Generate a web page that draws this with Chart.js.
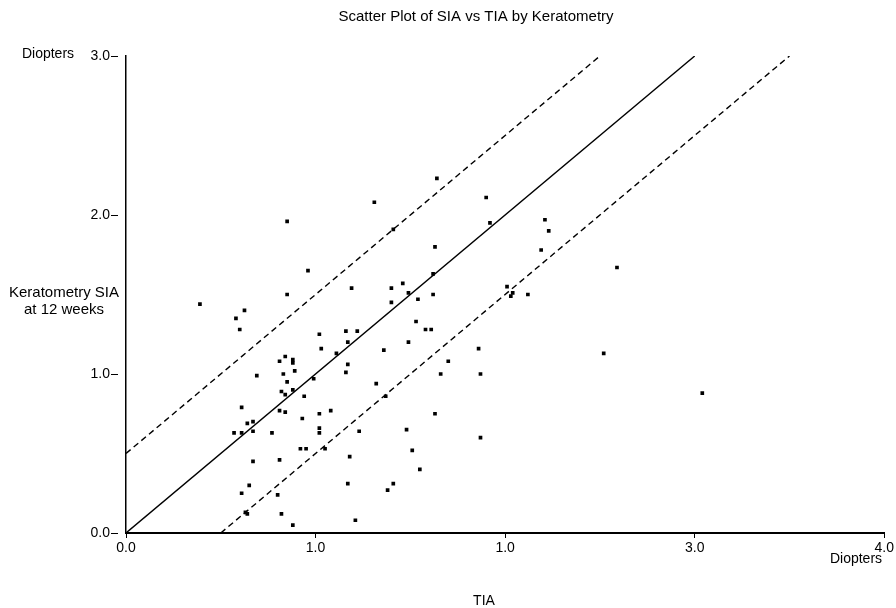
<!DOCTYPE html>
<html>
<head>
<meta charset="utf-8">
<title>Scatter Plot of SIA vs TIA by Keratometry</title>
<script src="https://cdn.jsdelivr.net/npm/chart.js@4.4.1/dist/chart.umd.min.js"></script>
<style>
  html, body { margin: 0; padding: 0; background: #fff; }
  #wrap { width: 896px; height: 608px; }
</style>
</head>
<body>
<div id="wrap"><canvas id="sia-chart" width="896" height="608"></canvas></div>
<script>
// values, in diopters (TIA on x, keratometry SIA on y)
const tia = [
    0.39, 0.58, 0.625, 0.60, 0.85, 0.96, 0.85, 1.31, 1.64, 1.41,
    1.90, 1.92, 1.63, 1.19, 1.62, 1.40, 1.46, 1.49, 1.62, 1.40,
    1.54, 1.53, 1.58, 1.61, 1.16, 1.22, 1.17, 1.49, 1.11, 1.36,
    1.86, 1.02, 1.03, 0.84, 0.81, 0.88, 0.88, 0.69, 0.83, 0.89,
    0.85, 0.99, 0.82, 0.84, 0.88, 0.94, 0.61, 0.81, 0.84, 0.64,
    0.67, 0.67, 0.57, 0.61, 0.77, 0.93, 1.02, 1.08, 1.02, 1.02,
    0.92, 0.95, 1.05, 0.67, 0.81, 0.65, 0.61, 0.80, 0.63, 0.64,
    0.82, 0.88, 1.17, 1.16, 1.70, 1.66, 1.87, 1.32, 1.37, 1.63,
    1.23, 1.48, 1.87, 1.18, 1.51, 1.55, 1.17, 1.41, 1.38, 1.21,
    2.21, 2.23, 2.19, 2.59, 2.01, 2.03, 2.04, 2.12, 2.52, 3.04
];
const sia = [
    1.44, 1.35, 1.40, 1.28, 1.96, 1.65, 1.50, 2.08, 2.23, 1.91,
    2.11, 1.95, 1.80, 1.54, 1.63, 1.54, 1.57, 1.51, 1.50, 1.45,
    1.47, 1.33, 1.28, 1.28, 1.27, 1.27, 1.20, 1.20, 1.13, 1.15,
    1.16, 1.25, 1.16, 1.11, 1.08, 1.09, 1.07, 0.99, 1.00, 1.02,
    0.95, 0.97, 0.89, 0.87, 0.90, 0.86, 0.79, 0.77, 0.76, 0.69,
    0.70, 0.64, 0.63, 0.63, 0.63, 0.72, 0.75, 0.77, 0.66, 0.63,
    0.53, 0.53, 0.53, 0.45, 0.46, 0.30, 0.25, 0.24, 0.13, 0.12,
    0.12, 0.05, 1.06, 1.01, 1.08, 1.00, 1.00, 0.94, 0.86, 0.75,
    0.64, 0.65, 0.60, 0.48, 0.52, 0.40, 0.31, 0.31, 0.27, 0.08,
    1.97, 1.90, 1.78, 1.67, 1.55, 1.49, 1.51, 1.50, 1.13, 0.88
];

// the scan prints "1.0" under the 2.0 tick too, keep it as it is
const xTickLabels = ['0.0', '1.0', '1.0', '3.0', '4.0'];
const yTickLabels = ['0.0', '1.0', '2.0', '3.0'];

// reference lines: SIA = TIA and +/- 0.5 D
const equalLine = [{ x: 0, y: 0 }, { x: 3, y: 3 }];
const upperLine = [{ x: 0, y: 0.5 }, { x: 2.5, y: 3 }];
const lowerLine = [{ x: 0.5, y: 0 }, { x: 3.5, y: 3 }];

const points = tia.map((x, i) => ({ x: x, y: sia[i] }));

Chart.defaults.font.family = '"Liberation Sans", Arial, Helvetica, sans-serif';
Chart.defaults.color = '#000';

// loose labels of the figure that are not axis titles
const figureText = {
    id: 'figureText',
    afterDraw(chart) {
        const ctx = chart.ctx;
        ctx.save();
        ctx.fillStyle = '#000';
        ctx.textAlign = 'center';
        ctx.textBaseline = 'middle';
        ctx.font = '15px "Liberation Sans", Arial, sans-serif';
        ctx.fillText('Scatter Plot of SIA vs TIA by Keratometry', 476, 17);
        ctx.fillText('Keratometry SIA', 64, 293);
        ctx.fillText('at 12 weeks', 64, 310);
        ctx.font = '14px "Liberation Sans", Arial, sans-serif';
        ctx.fillText('Diopters', 48, 54);
        ctx.fillText('Diopters', 856, 559);
        ctx.fillText('TIA', 484, 601);
        ctx.restore();
    }
};

const lineSet = (data, dash) => ({
    type: 'line',
    data: data,
    borderColor: '#000',
    borderWidth: 1.4,
    borderDash: dash,
    pointRadius: 0,
    fill: false
});

new Chart(document.getElementById('sia-chart'), {
    type: 'scatter',
    data: {
        datasets: [
            {
                data: points,
                pointStyle: 'rect',
                pointRadius: 2.6,
                pointBorderWidth: 0,
                backgroundColor: '#000',
                borderColor: '#000'
            },
            lineSet(equalLine, []),
            lineSet(upperLine, [6, 4]),
            lineSet(lowerLine, [6, 4])
        ]
    },
    options: {
        responsive: false,
        animation: false,
        devicePixelRatio: 1,
        layout: { padding: { top: 56, right: 11, bottom: 0, left: 0 } },
        plugins: {
            legend: { display: false },
            tooltip: { enabled: false },
            title: { display: false }
        },
        scales: {
            x: {
                type: 'linear',
                min: 0,
                max: 4,
                border: { color: '#000', width: 2 },
                grid: { drawOnChartArea: false, color: '#000', tickLength: 5 },
                ticks: {
                    stepSize: 1,
                    padding: 2,
                    font: { size: 14 },
                    maxRotation: 0,
                    callback: (value, index) => xTickLabels[index]
                },
                afterFit(scale) { scale.height = 75; }
            },
            y: {
                type: 'linear',
                min: 0,
                max: 3,
                border: { color: '#000', width: 1.5 },
                grid: {
                    drawOnChartArea: false,
                    color: '#000',
                    tickLength: 15,
                    // short dash right after the label, gap before the axis
                    tickBorderDash: [7, 20]
                },
                ticks: {
                    stepSize: 1,
                    padding: 1,
                    font: { size: 14 },
                    callback: (value, index) => yTickLabels[index]
                },
                afterFit(scale) { scale.width = 126; }
            }
        }
    },
    plugins: [figureText]
});
</script>
</body>
</html>
